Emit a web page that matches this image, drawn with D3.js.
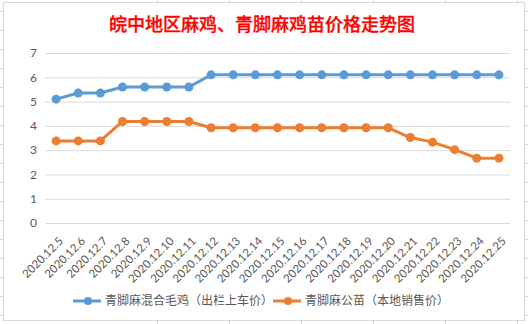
<!DOCTYPE html>
<html><head><meta charset="utf-8">
<script src="https://cdn.jsdelivr.net/npm/d3@7"></script>
<style>html,body{margin:0;padding:0;background:#fff;}svg{display:block;}</style>
</head><body>
<svg id="c" width="528" height="324"></svg>
<script>
const title = "皖中地区麻鸡、青脚麻鸡苗价格走势图";
const dates = ["2020.12.5","2020.12.6","2020.12.7","2020.12.8","2020.12.9","2020.12.10","2020.12.11","2020.12.12","2020.12.13","2020.12.14","2020.12.15","2020.12.16","2020.12.17","2020.12.18","2020.12.19","2020.12.20","2020.12.21","2020.12.22","2020.12.23","2020.12.24","2020.12.25"];
const seriesNames = ["青脚麻混合毛鸡（出栏上车价）","青脚麻公苗（本地销售价）"];
const mixedChicken = [5.1,5.35,5.35,5.6,5.6,5.6,5.6,6.1,6.1,6.1,6.1,6.1,6.1,6.1,6.1,6.1,6.1,6.1,6.1,6.1,6.1];
const maleChick = [3.38,3.38,3.38,4.18,4.18,4.18,4.18,3.92,3.92,3.92,3.92,3.92,3.92,3.92,3.92,3.92,3.52,3.33,3.02,2.67,2.67];
const yTicks = [0,1,2,3,4,5,6,7];
const colors = ["#5B9BD5","#ED7D31"];

const svg = d3.select("#c");
// spreadsheet background grid
const bg = svg.append("g");
d3.range(11, 324, 19).forEach(y => bg.append("line").attr("x1",0).attr("x2",528).attr("y1",y+0.5).attr("y2",y+0.5).attr("stroke","#d4d4d4"));
d3.range(157, 528, 72).forEach(x => bg.append("line").attr("x1",x+0.5).attr("x2",x+0.5).attr("y1",0).attr("y2",324).attr("stroke","#d4d4d4"));
// chart area
svg.append("rect").attr("x",3.5).attr("y",2.5).attr("width",521).attr("height",318).attr("fill","#fff").attr("stroke","#d9d9d9");

svg.append("text").attr("x",262).attr("y",31).attr("text-anchor","middle")
  .attr("font-family","'Noto Sans CJK SC'").attr("font-size",18).attr("font-weight",500)
  .attr("stroke","#FF0000").attr("stroke-width",0.3)
  .attr("fill","#FF0000").text(title);

const x = d3.scaleBand().domain(dates).range([45,510]);
const y = d3.scaleLinear().domain([0,7]).range([223,53]);
const numFont = "Lato, 'Liberation Sans', sans-serif";

const gy = svg.append("g").attr("transform","translate(45,0)")
  .call(d3.axisLeft(y).tickValues(yTicks).tickSize(-465).tickFormat(d3.format("d")));
gy.select(".domain").remove();
gy.selectAll(".tick line").attr("stroke","#d9d9d9");
gy.selectAll(".tick text").attr("x",-8).attr("fill","#595959").attr("font-size",12).attr("font-family",numFont);

const gx = svg.append("g").attr("transform","translate(0,223)")
  .call(d3.axisBottom(x).tickSize(0));
gx.select(".domain").remove();
gx.selectAll(".tick text").attr("fill","#595959").attr("font-size",11.5).attr("font-family",numFont)
  .attr("text-anchor","end").attr("y",0).attr("dy","0.35em")
  .attr("transform","translate(5,16) rotate(-45)");

const line = d3.line().x((d,i)=>x(dates[i])+x.bandwidth()/2).y(d=>y(d));
[mixedChicken, maleChick].forEach((s,k)=>{
  svg.append("path").datum(s).attr("d",line).attr("fill","none").attr("stroke",colors[k]).attr("stroke-width",3).attr("stroke-linejoin","round");
  svg.append("g").selectAll("circle").data(s).join("circle")
    .attr("cx",(d,i)=>x(dates[i])+x.bandwidth()/2).attr("cy",d=>y(d)).attr("r",4.5).attr("fill",colors[k]);
});

// legend
const legX = [73, 273];
seriesNames.forEach((n,k)=>{
  const g = svg.append("g").attr("transform",`translate(${legX[k]},301)`);
  g.append("line").attr("x1",0).attr("x2",28).attr("stroke",colors[k]).attr("stroke-width",3);
  g.append("circle").attr("cx",15).attr("r",4).attr("fill",colors[k]);
  g.append("text").attr("x",32).attr("dy","0.36em").attr("font-size",12).attr("fill","#595959")
    .attr("font-family","'Noto Sans CJK SC'").text(n);
});
</script>
</body></html>
